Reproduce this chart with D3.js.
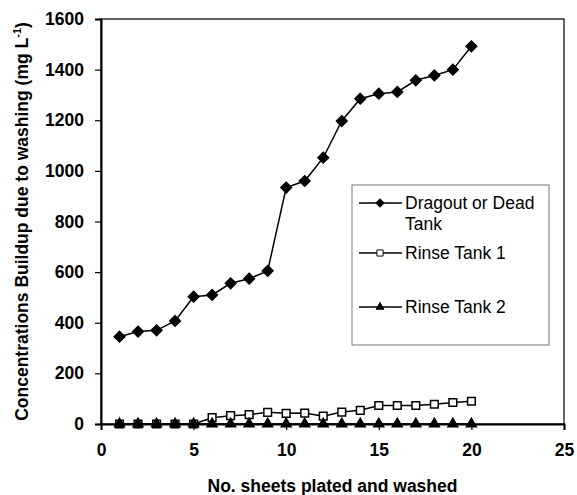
<!DOCTYPE html>
<html>
<head>
<meta charset="utf-8">
<script src="https://cdn.jsdelivr.net/npm/d3@7"></script>
<style>
  body { margin: 0; background: #fff; }
  text { font-family: "Liberation Sans", Arial, sans-serif; }
</style>
</head>
<body>
<svg id="chart" width="577" height="495"></svg>
<script>
// sheet numbers
const sheets = [1, 2, 3, 4, 5, 6, 7, 8, 9, 10, 11, 12, 13, 14, 15, 16, 17, 18, 19, 20];
// concentration (mg/L)
const dragout = [345, 365, 370, 407, 503, 510, 556, 574, 605, 934, 960, 1052, 1197, 1285, 1305, 1312, 1358, 1377, 1400, 1492];
const rinse1 = [0, 0, 0, 0, 0, 25, 33, 37, 46, 42, 43, 31, 47, 54, 73, 73, 73, 78, 85, 90];
const rinse2 = [0, 0, 0, 0, 0, 0, 0, 0, 0, 0, 0, 0, 0, 0, 0, 0, 0, 0, 0, 0];
const xTicks = [0, 5, 10, 15, 20, 25];
const yTicks = [0, 200, 400, 600, 800, 1000, 1200, 1400, 1600];

const svg = d3.select('#chart');
const margin = { top: 19, right: 13, bottom: 71, left: 101 };
const width = 577 - margin.left - margin.right;
const height = 495 - margin.top - margin.bottom;

const x = d3.scaleLinear().domain([0, 25]).range([0, width]);
const y = d3.scaleLinear().domain([0, 1600]).range([height, 0]);

const g = svg.append('g')
  .attr('transform', `translate(${margin.left},${margin.top})`);

// frame
g.append('rect')
  .attr('width', width).attr('height', height)
  .attr('fill', 'none').attr('stroke', '#000').attr('stroke-width', 1.2);

// axes
const xAxis = g.append('g')
  .attr('transform', `translate(0,${height})`)
  .call(d3.axisBottom(x).tickValues(xTicks).tickFormat(d3.format('d')).tickSize(6).tickPadding(14));
const yAxis = g.append('g')
  .call(d3.axisLeft(y).tickValues(yTicks).tickFormat(d3.format('d')).tickSize(6).tickPadding(11));

[xAxis, yAxis].forEach(a => {
  a.select('.domain').attr('stroke', '#000').attr('stroke-width', 2);
  a.selectAll('.tick line').attr('stroke', '#000').attr('stroke-width', 1.2);
  a.selectAll('.tick text')
    .attr('fill', '#000')
    .style('font-family', '"Liberation Sans", Arial, sans-serif')
    .style('font-size', '17.5px')
    .style('font-weight', 'bold');
});

// axis titles
svg.append('text')
  .attr('x', margin.left + width / 2).attr('y', 492)
  .attr('text-anchor', 'middle')
  .style('font-size', '17.5px').style('font-weight', 'bold')
  .text('No. sheets plated and washed');

const yTitle = svg.append('text')
  .attr('transform', `translate(28,${margin.top + height / 2}) rotate(-90)`)
  .attr('text-anchor', 'middle')
  .style('font-size', '17.5px').style('font-weight', 'bold');
yTitle.append('tspan').text('Concentrations Buildup due to washing (mg L');
yTitle.append('tspan').attr('dy', -7).style('font-size', '11px').text('-1');
yTitle.append('tspan').attr('dy', 7).text(')');

const line = d3.line()
  .x((d, i) => x(sheets[i]))
  .y(d => y(d));

const symDiamond = d3.symbol().type(d3.symbolDiamond2).size(72);
const symSquare = d3.symbol().type(d3.symbolSquare2).size(75);
const symTriangle = d3.symbol().type(d3.symbolTriangle).size(42);

const series = [
  { name: 'Rinse Tank 1', values: rinse1, sym: symSquare, fill: '#fff' },
  { name: 'Rinse Tank 2', values: rinse2, sym: symTriangle, fill: '#000' },
  { name: 'Dragout or Dead Tank', values: dragout, sym: symDiamond, fill: '#000' }
];

series.forEach(s => {
  g.append('path')
    .datum(s.values)
    .attr('fill', 'none')
    .attr('stroke', '#000')
    .attr('stroke-width', 1.5)
    .attr('d', line);
});
series.forEach(s => {
  g.selectAll(null)
    .data(s.values)
    .enter().append('path')
    .attr('transform', (d, i) => `translate(${x(sheets[i])},${y(d)})`)
    .attr('d', s.sym)
    .attr('fill', s.fill)
    .attr('stroke', '#000')
    .attr('stroke-width', 1.5);
});

// legend
const legend = svg.append('g');
legend.append('rect')
  .attr('x', 352).attr('y', 185).attr('width', 197).attr('height', 160)
  .attr('fill', '#fff').attr('stroke', '#777').attr('stroke-width', 1);

const legendItems = [
  { lines: ['Dragout or Dead', 'Tank'], y: 203, sym: symDiamond, fill: '#000' },
  { lines: ['Rinse Tank 1'], y: 253, sym: symSquare, fill: '#fff' },
  { lines: ['Rinse Tank 2'], y: 307, sym: symTriangle, fill: '#000' }
];
legendItems.forEach(item => {
  legend.append('line')
    .attr('x1', 359).attr('x2', 402)
    .attr('y1', item.y).attr('y2', item.y)
    .attr('stroke', '#000').attr('stroke-width', 1.5);
  legend.append('path')
    .attr('transform', `translate(380,${item.y}) scale(0.8)`)
    .attr('d', item.sym)
    .attr('fill', item.fill)
    .attr('stroke', '#000')
    .attr('stroke-width', 1.2);
  item.lines.forEach((t, k) => {
    legend.append('text')
      .attr('x', 405).attr('y', item.y + 6 + k * 21)
      .style('font-size', '17.5px')
      .text(t);
  });
});
</script>
</body>
</html>
